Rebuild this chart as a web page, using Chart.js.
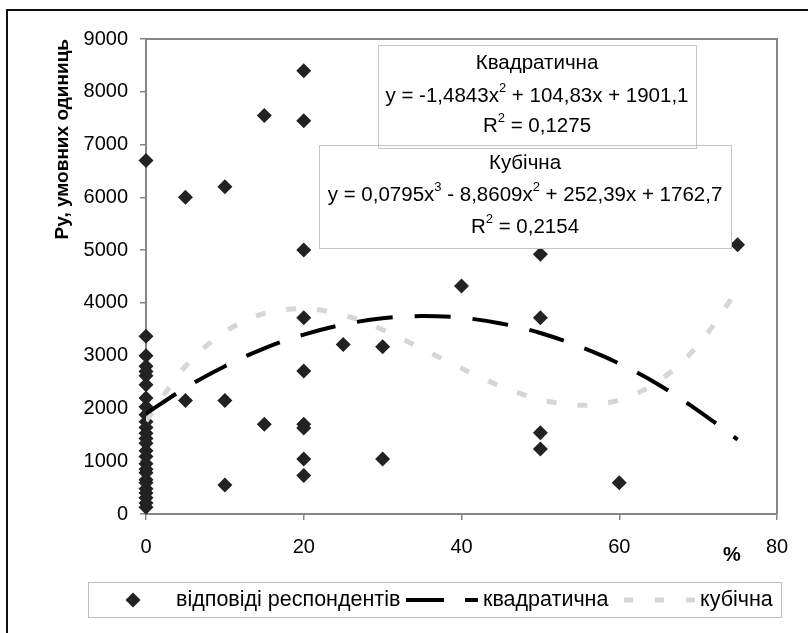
<!DOCTYPE html>
<html>
<head>
<meta charset="utf-8">
<script src="https://cdn.jsdelivr.net/npm/chart.js@4/dist/chart.umd.min.js"></script>
<style>
html, body { margin: 0; padding: 0; background: #fff; }
#grafico { display: block; }
</style>
</head>
<body>
<canvas id="grafico" width="808" height="633"></canvas>
<script>
// відповіді респондентів: частка (%) і Ру
var respX = [0, 0, 0, 0, 0, 0, 0, 0, 0, 0, 0, 0, 0, 0, 0, 0, 0, 0, 0, 0, 0, 0, 0, 0, 0, 0, 0,
             5, 5, 10, 10, 10, 15, 15,
             20, 20, 20, 20, 20, 20, 20, 20, 20,
             25, 30, 30, 40, 50, 50, 50, 50, 60, 75];
var respY = [6700, 3370, 3000, 2800, 2700, 2620, 2450, 2200, 2030, 1880, 1750, 1640, 1530, 1430,
             1340, 1200, 1090, 950, 850, 780, 650, 590, 480, 400, 310, 210, 130,
             6000, 2150, 6200, 2150, 550, 7550, 1700,
             8400, 7450, 5000, 3720, 2710, 1700, 1630, 1040, 730,
             3210, 3170, 1040, 4320, 4920, 3720, 1540, 1230, 590, 5100];

// лінії тренду
var trendX = [0, 5, 10, 15, 20, 25, 30, 35, 40, 45, 50, 55, 60, 65, 70, 75];
var quadY  = [1900, 2390, 2800, 3140, 3400, 3590, 3710, 3750, 3720, 3610, 3430, 3170, 2850, 2450, 1960, 1410];
var cubicY = [1760, 2800, 3450, 3800, 3890, 3770, 3490, 3130, 2760, 2420, 2170, 2060, 2160, 2520, 3200, 4250];

var legendLabels = ['відповіді респондентів', 'квадратична', 'кубічна'];
var yTitle = 'Ру, умовних одиниць';
var xTitle = '%';

var eqQuad = [['Квадратична'], ['y = -1,4843x', '2', ' + 104,83x + 1901,1'], ['R', '2', ' = 0,1275']];
var eqCubic = [['Кубічна'], ['y = 0,0795x', '3', ' - 8,8609x', '2', ' + 252,39x + 1762,7'], ['R', '2', ' = 0,2154']];

var fonte = 'Liberation Sans, Arial, sans-serif';

function pontos(xs, ys) {
    var out = [];
    for (var i = 0; i < xs.length; i++) {
        out.push({x: xs[i], y: ys[i]});
    }
    return out;
}

// desenha uma linha com expoentes (partes impares sao expoentes)
function linhaComExpoente(ctx, partes, cx, cy) {
    var normal = '20.5px ' + fonte;
    var sup = '13px ' + fonte;
    var total = 0;
    for (var i = 0; i < partes.length; i++) {
        ctx.font = (i % 2 == 1) ? sup : normal;
        total += ctx.measureText(partes[i]).width;
    }
    var x = cx - total / 2;
    ctx.textAlign = 'left';
    ctx.textBaseline = 'middle';
    for (var j = 0; j < partes.length; j++) {
        var ehSup = (j % 2 == 1);
        ctx.font = ehSup ? sup : normal;
        ctx.fillText(partes[j], x, ehSup ? cy - 8 : cy);
        x += ctx.measureText(partes[j]).width;
    }
}

function caixaEquacao(ctx, linhas, x0, y0, x1, y1, ys) {
    ctx.fillStyle = '#fff';
    ctx.fillRect(x0, y0, x1 - x0, y1 - y0);
    ctx.fillStyle = '#000';
    var cx = (x0 + x1) / 2;
    for (var i = 0; i < linhas.length; i++) {
        linhaComExpoente(ctx, linhas[i], cx, ys[i]);
    }
}

var moldura = {
    id: 'moldura',
    beforeDraw: function(chart) {
        var ctx = chart.ctx;
        ctx.save();
        ctx.fillStyle = '#fff';
        ctx.fillRect(0, 0, chart.width, chart.height);
        ctx.strokeStyle = '#111';
        ctx.lineWidth = 2;
        ctx.beginPath();
        ctx.moveTo(7, 633);
        ctx.lineTo(7, 10);
        ctx.lineTo(808, 10);
        ctx.stroke();
        ctx.restore();
    },
    beforeDatasetsDraw: function(chart) {
        var a = chart.chartArea;
        var ctx = chart.ctx;
        ctx.save();
        ctx.strokeStyle = '#868686';
        ctx.lineWidth = 2;
        ctx.beginPath();
        ctx.moveTo(a.left, a.top);
        ctx.lineTo(a.right, a.top);
        ctx.lineTo(a.right, a.bottom);
        ctx.stroke();
        ctx.restore();
    },
    afterDraw: function(chart) {
        var ctx = chart.ctx;
        ctx.save();

        // caixas com equacoes
        caixaEquacao(ctx, eqQuad, 378, 45, 696, 148, [63, 96, 126]);
        caixaEquacao(ctx, eqCubic, 319, 145, 731, 248, [163, 195, 227]);
        ctx.strokeStyle = '#c4c4c4';
        ctx.lineWidth = 1;
        ctx.strokeRect(378.5, 45.5, 318, 103);
        ctx.strokeRect(319.5, 145.5, 412, 103);

        // titulo do eixo x
        ctx.fillStyle = '#000';
        ctx.font = 'bold 20px ' + fonte;
        ctx.textAlign = 'center';
        ctx.textBaseline = 'middle';
        ctx.fillText(xTitle, 732, 555);

        // legenda
        var ly = 600;
        ctx.strokeStyle = '#bdbdbd';
        ctx.lineWidth = 1;
        ctx.strokeRect(88.5, 582.5, 693, 35);

        ctx.fillStyle = '#222';
        Chart.helpers.drawPoint(ctx, {pointStyle: 'rectRot', radius: 7.5, borderWidth: 0}, 133, ly);

        ctx.lineCap = 'butt';
        ctx.strokeStyle = '#000';
        ctx.lineWidth = 4;
        ctx.setLineDash([38, 21]);
        ctx.beginPath();
        ctx.moveTo(406, ly);
        ctx.lineTo(478, ly);
        ctx.stroke();

        ctx.strokeStyle = '#d6d6d6';
        ctx.lineWidth = 5;
        ctx.setLineDash([9, 22]);
        ctx.beginPath();
        ctx.moveTo(624, ly);
        ctx.lineTo(698, ly);
        ctx.stroke();
        ctx.setLineDash([]);

        ctx.fillStyle = '#000';
        ctx.font = '21.5px ' + fonte;
        ctx.textAlign = 'left';
        ctx.fillText(legendLabels[0], 176, ly);
        ctx.fillText(legendLabels[1], 483, ly);
        ctx.fillText(legendLabels[2], 700, ly);

        ctx.restore();
    }
};

var config = {
    type: 'scatter',
    data: {
        datasets: [{
            label: legendLabels[0],
            data: pontos(respX, respY),
            pointStyle: 'rectRot',
            pointRadius: 7.5,
            pointBackgroundColor: '#222',
            pointBorderWidth: 0,
            showLine: false,
            clip: false,
            order: 3
        }, {
            label: legendLabels[1],
            data: pontos(trendX, quadY),
            showLine: true,
            borderColor: '#000',
            borderWidth: 4,
            borderDash: [36, 22],
            borderCapStyle: 'butt',
            pointRadius: 0,
            cubicInterpolationMode: 'monotone',
            order: 1
        }, {
            label: legendLabels[2],
            data: pontos(trendX, cubicY),
            showLine: true,
            borderColor: '#d6d6d6',
            borderWidth: 5,
            borderDash: [10, 21],
            borderCapStyle: 'butt',
            pointRadius: 0,
            cubicInterpolationMode: 'monotone',
            order: 2
        }]
    },
    options: {
        responsive: false,
        animation: false,
        devicePixelRatio: 1,
        layout: { padding: { left: 0, top: 39, right: 31, bottom: 0 } },
        plugins: {
            legend: { display: false },
            tooltip: { enabled: false }
        },
        scales: {
            x: {
                type: 'linear',
                min: 0,
                max: 80,
                ticks: { stepSize: 20, color: '#000', font: { family: fonte, size: 20 }, padding: 15 },
                grid: { drawOnChartArea: false, drawTicks: true, tickLength: 6, color: '#868686', lineWidth: 1.5 },
                border: { color: '#868686', width: 2 },
                afterFit: function(s) { s.height = 119; }
            },
            y: {
                min: 0,
                max: 9000,
                ticks: {
                    stepSize: 1000,
                    color: '#000',
                    font: { family: fonte, size: 20 },
                    padding: 12,
                    callback: function(value) { return String(value); }
                },
                grid: { drawOnChartArea: false, drawTicks: true, tickLength: 6, color: '#868686', lineWidth: 1.5 },
                border: { color: '#868686', width: 2 },
                title: {
                    display: true,
                    text: yTitle,
                    align: 'end',
                    color: '#000',
                    font: { family: fonte, size: 19, weight: 'bold' },
                    padding: { top: 51, bottom: 0 }
                },
                afterFit: function(s) { s.width = 146; }
            }
        }
    },
    plugins: [moldura]
};

new Chart(document.getElementById('grafico'), config);
</script>
</body>
</html>
